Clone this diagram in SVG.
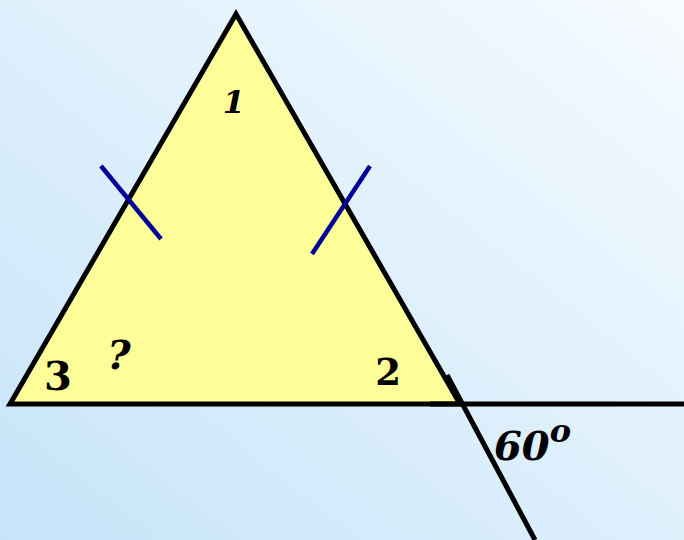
<svg xmlns="http://www.w3.org/2000/svg" width="684" height="540" viewBox="0 0 684 540">
<defs>
<linearGradient id="bg" x1="0" y1="1" x2="1" y2="0">
<stop offset="0" stop-color="#c6e4f9"/>
<stop offset="1" stop-color="#f6fbff"/>
</linearGradient>
<style>
.edge{stroke:#000;stroke-width:5;fill:none;stroke-linecap:butt}
.tick{stroke:#000099;stroke-width:4.5;stroke-linecap:butt}
.lbl{font-family:"DejaVu Serif","Liberation Serif",serif;font-weight:bold;fill:#000}
.it{font-style:italic}
</style>
</defs>
<rect x="0" y="0" width="684" height="540" fill="url(#bg)"/>
<g id="triangle">
<polygon points="236,14 10,404 460,404" fill="#ffff99" stroke="#000" stroke-width="5" stroke-linejoin="miter"/>
</g>
<g id="connectors">
<line class="edge" x1="430" y1="404" x2="684" y2="404"/>
<line class="edge" x1="447" y1="375" x2="535" y2="540"/>
<line class="tick" x1="101" y1="166" x2="161" y2="239"/>
<line class="tick" x1="370" y1="166" x2="312" y2="254"/>
</g>
<g id="label-1"><text class="lbl it" x="234" y="113" font-size="32" text-anchor="middle">1</text></g>
<g id="label-2"><text class="lbl" x="388" y="385" font-size="37" text-anchor="middle">2</text></g>
<g id="label-3"><text class="lbl" x="58" y="390" font-size="40" text-anchor="middle">3</text></g>
<g id="label-q"><text class="lbl it" x="119" y="369" font-size="40" text-anchor="middle">?</text></g>
<g id="label-60"><text class="lbl it" x="494" y="460" font-size="40">60<tspan font-size="32" dy="-18">o</tspan></text></g>
</svg>
